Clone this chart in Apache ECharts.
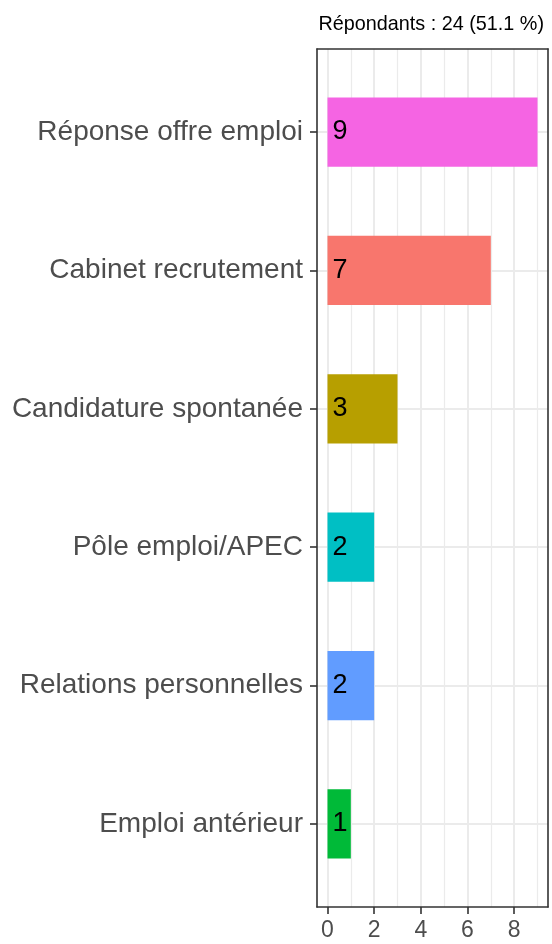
<!DOCTYPE html>
<html>
<head>
<meta charset="utf-8">
<script src="https://cdn.jsdelivr.net/npm/echarts@6/dist/echarts.min.js"></script>
<style>
html, body { margin: 0; padding: 0; background: #fff; }
#chart { width: 552px; height: 944px; }
</style>
</head>
<body>
<div id="chart"></div>
<script>
// categories from top to bottom
var categories = ['Réponse offre emploi', 'Cabinet recrutement', 'Candidature spontanée',
                  'Pôle emploi/APEC', 'Relations personnelles', 'Emploi antérieur'];
var counts = [9, 7, 3, 2, 2, 1];
var barColors = ['#F564E3', '#F8766D', '#B79F00', '#00BFC4', '#619CFF', '#00BA38'];
var xTicks = [0, 2, 4, 6, 8];
var xMinor = [1, 3, 5, 7, 9];
var titleText = 'Répondants : 24 (51.1 %)';

var n = categories.length;
var fontFam = '"Liberation Sans", Arial, Helvetica, sans-serif';

// y position of each category (top one highest)
var yPos = categories.map(function (c, i) { return n - i; });

var barData = categories.map(function (c, i) {
  return [counts[i], yPos[i], i];
});

var gridLines = [];
xMinor.forEach(function (v) {
  gridLines.push({ xAxis: v, lineStyle: { color: '#EBEBEB', width: 1.2, type: 'solid' } });
});
xTicks.forEach(function (v) {
  gridLines.push({ xAxis: v, lineStyle: { color: '#EBEBEB', width: 2, type: 'solid' } });
});
yPos.forEach(function (v) {
  gridLines.push({ yAxis: v, lineStyle: { color: '#EBEBEB', width: 2, type: 'solid' } });
});

var chart = echarts.init(document.getElementById('chart'));
chart.setOption({
  animation: false,
  backgroundColor: '#fff',
  title: {
    text: titleText,
    right: 3,
    top: 10,
    textStyle: { fontFamily: fontFam, fontSize: 19.8, fontWeight: 'normal', color: '#000' }
  },
  grid: { left: 317, right: 4, top: 49, bottom: 37 },
  xAxis: [{
    type: 'value',
    min: -0.45,
    max: 9.45,
    z: 10,
    splitLine: { show: false },
    axisLine: { show: true, onZero: false, lineStyle: { color: '#333', width: 1.6 } },
    axisTick: { show: true, length: 7, customValues: xTicks, lineStyle: { color: '#333', width: 1.6 } },
    axisLabel: { customValues: xTicks, margin: 12, fontFamily: fontFam, fontSize: 23, color: '#4D4D4D' }
  }, {
    type: 'value',
    position: 'top',
    min: -0.45,
    max: 9.45,
    z: 10,
    splitLine: { show: false },
    axisLine: { show: true, onZero: false, lineStyle: { color: '#333', width: 1.6 } },
    axisTick: { show: false },
    axisLabel: { show: false }
  }],
  yAxis: [{
    type: 'value',
    min: 0.4,
    max: n + 0.6,
    z: 10,
    splitLine: { show: false },
    axisLine: { show: true, onZero: false, lineStyle: { color: '#333', width: 1.6 } },
    axisTick: { show: true, length: 7, customValues: yPos, lineStyle: { color: '#333', width: 1.6 } },
    axisLabel: {
      customValues: yPos,
      margin: 14,
      fontFamily: fontFam,
      fontSize: 28,
      color: '#4D4D4D',
      formatter: function (v) { return categories[n - v]; }
    }
  }, {
    type: 'value',
    position: 'right',
    min: 0.4,
    max: n + 0.6,
    z: 10,
    splitLine: { show: false },
    axisLine: { show: true, onZero: false, lineStyle: { color: '#333', width: 1.6 } },
    axisTick: { show: false },
    axisLabel: { show: false }
  }],
  series: [{
    type: 'line',
    data: [],
    z: 1,
    silent: true,
    markLine: {
      silent: true,
      z: 1,
      symbol: 'none',
      label: { show: false },
      animation: false,
      data: gridLines
    }
  }, {
    type: 'custom',
    z: 5,
    data: barData,
    encode: { x: 0, y: 1 },
    renderItem: function (params, api) {
      var val = api.value(0);
      var y = api.value(1);
      var idx = api.value(2);
      var p0 = api.coord([0, y]);
      var p1 = api.coord([val, y]);
      var h = api.size([0, 0.5])[1];
      return {
        type: 'group',
        children: [{
          type: 'rect',
          shape: { x: p0[0], y: p0[1] - h / 2, width: p1[0] - p0[0], height: h },
          style: { fill: barColors[idx] }
        }, {
          type: 'text',
          style: {
            text: String(val),
            x: p0[0] + 5,
            y: p0[1],
            align: 'left',
            verticalAlign: 'middle',
            fontFamily: fontFam,
            fontSize: 27,
            fill: '#000'
          }
        }]
      };
    }
  }]
});
</script>
</body>
</html>
